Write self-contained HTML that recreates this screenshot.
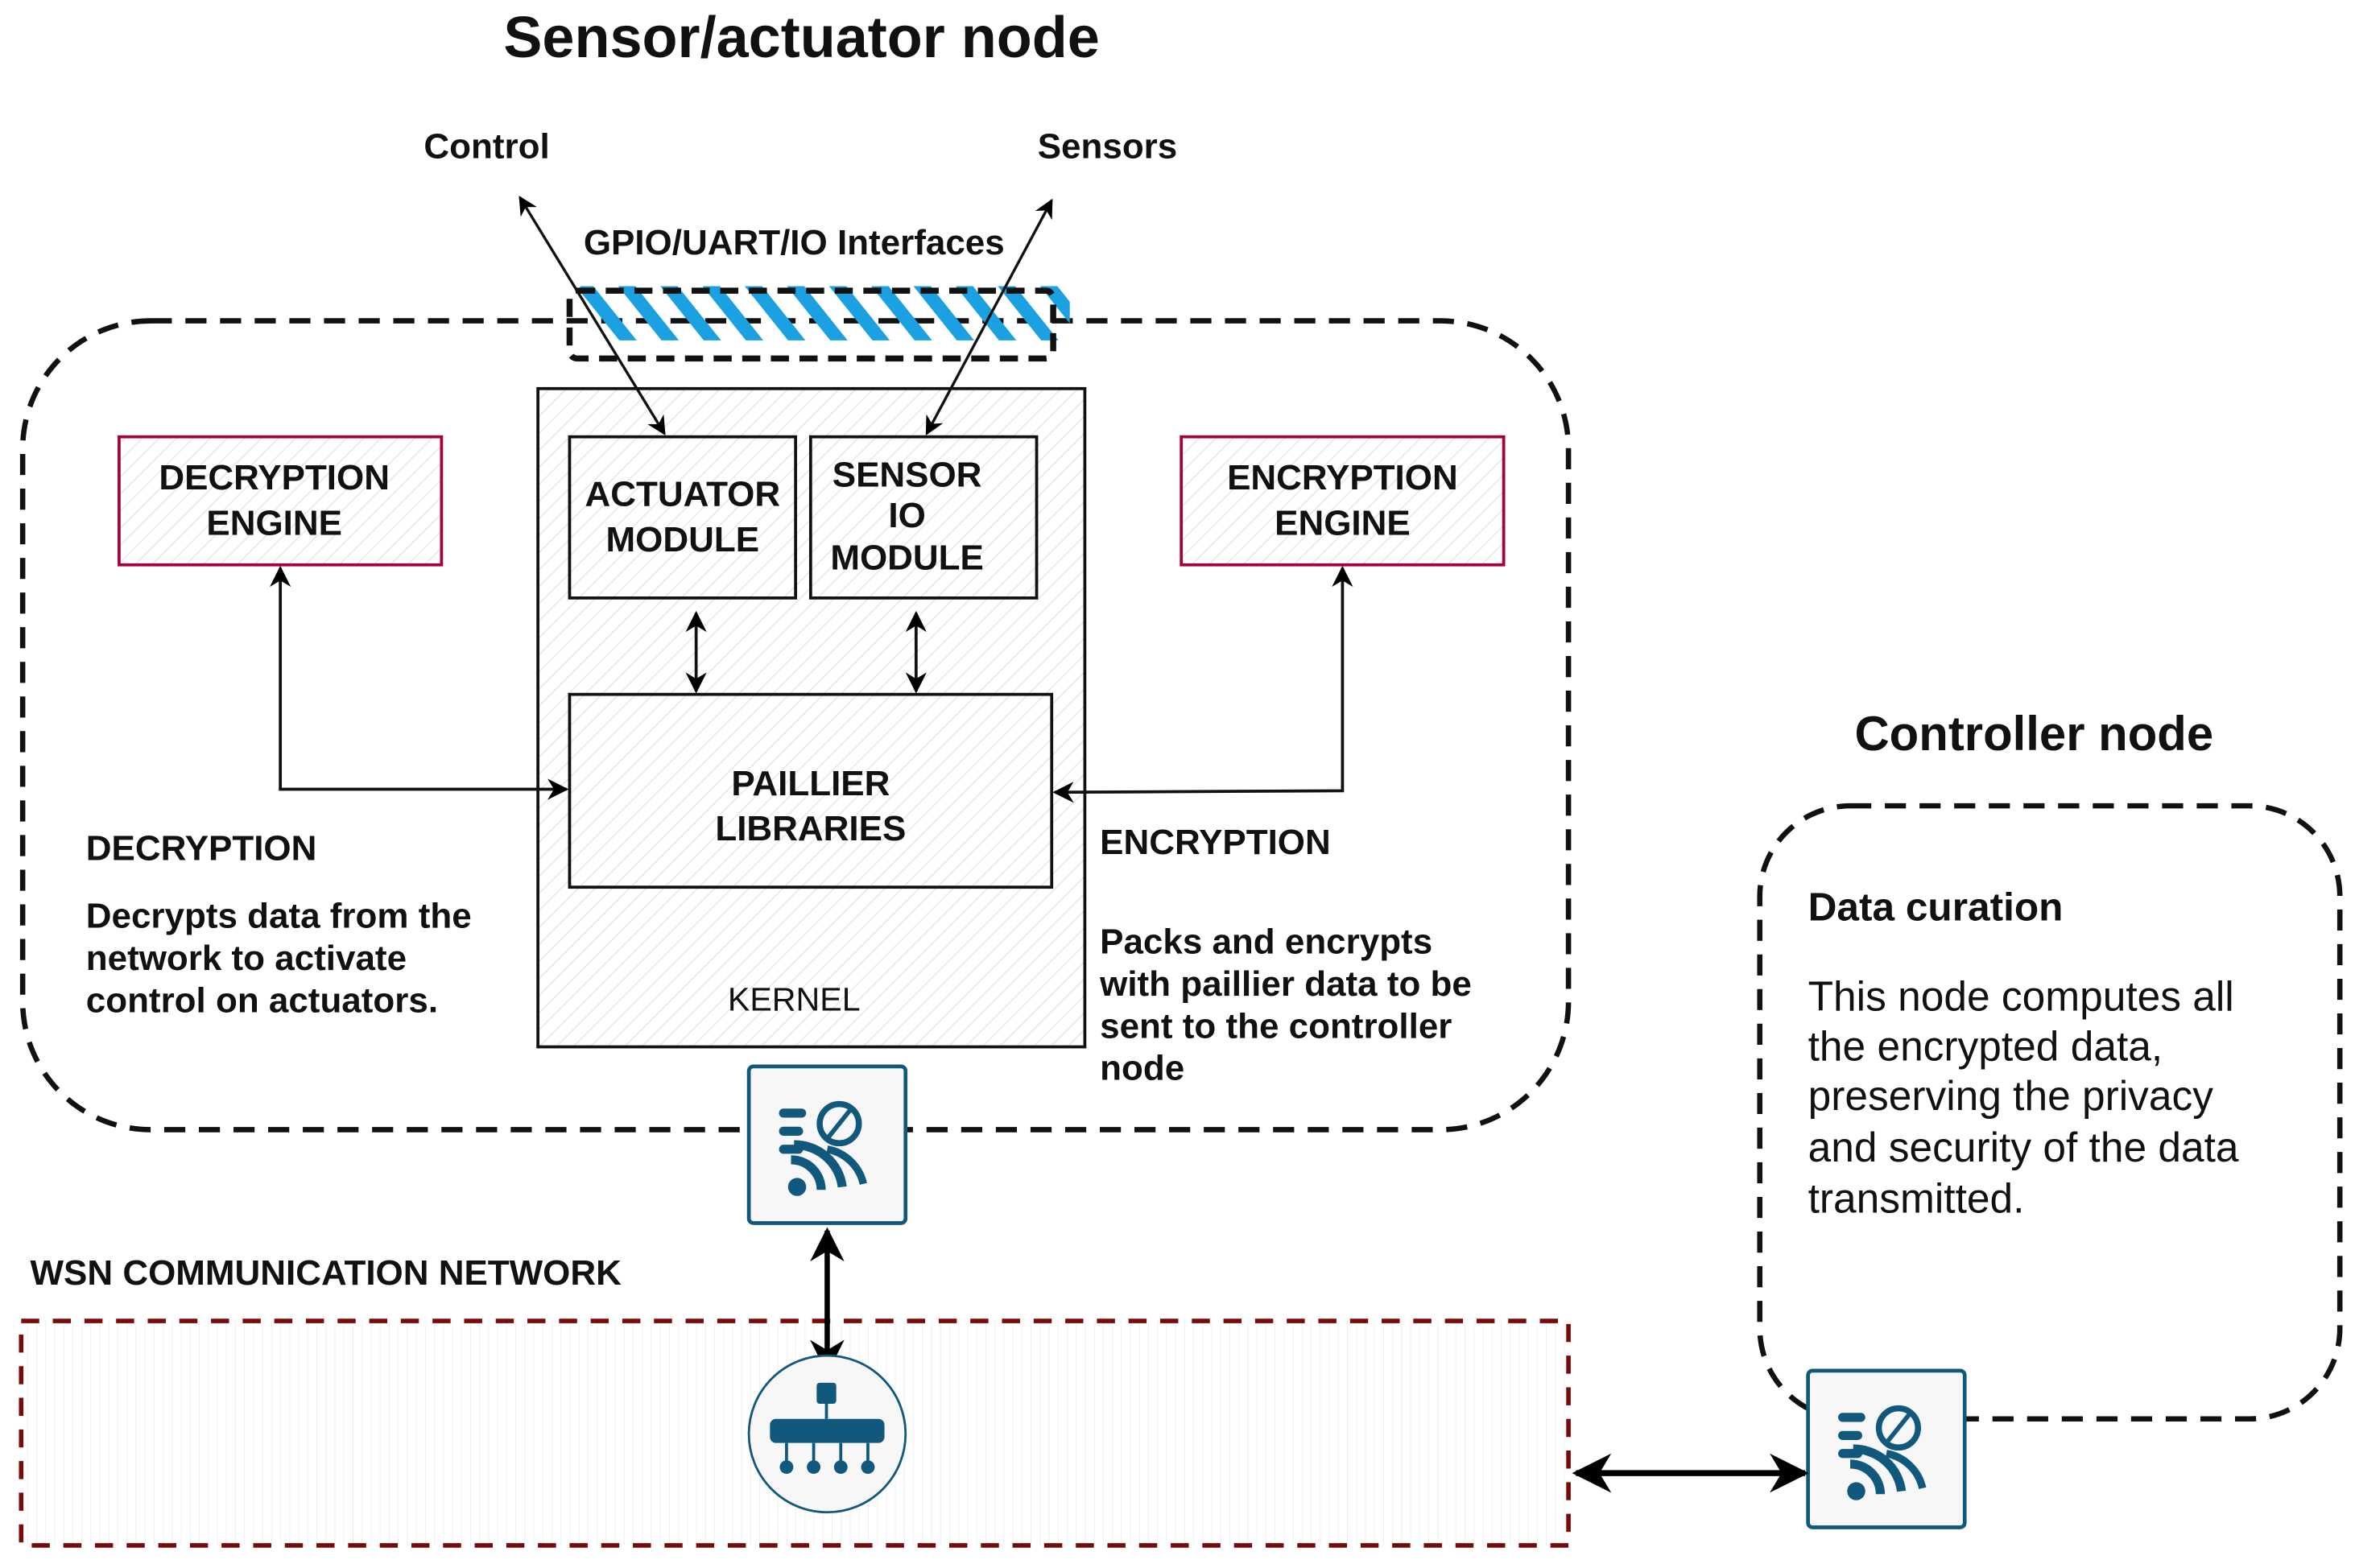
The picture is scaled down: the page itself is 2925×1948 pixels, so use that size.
<!DOCTYPE html>
<html><head><meta charset="utf-8"><style>
html,body{margin:0;padding:0;background:#fff;}
svg{display:block;}
text{font-family:"Liberation Sans",Arial,sans-serif;fill:#111;}
.b{font-weight:bold;font-size:23.5px;}
</style></head><body>
<svg width="2925" height="1948" viewBox="0 0 1563 1041" xmlns="http://www.w3.org/2000/svg">
<defs>
<pattern id="hatch" width="8" height="8" patternUnits="userSpaceOnUse" patternTransform="rotate(45)">
<rect width="8" height="8" fill="#fff"/><line x1="0" y1="0" x2="0" y2="8" stroke="#e6e6e6" stroke-width="1.5"/></pattern>
<pattern id="vh" width="6" height="6" patternUnits="userSpaceOnUse">
<rect width="6" height="6" fill="#fff"/><line x1="0" y1="0" x2="0" y2="6" stroke="#eee" stroke-width="1"/></pattern>
<marker id="ah" viewBox="0 0 10 10" refX="9" refY="5" markerWidth="7" markerHeight="7" orient="auto-start-reverse">
<path d="M0,0 L10,5 L0,10 L3,5 z" fill="#000"/></marker>
<marker id="ah2" viewBox="0 0 10 10" refX="9" refY="5" markerWidth="6.5" markerHeight="6.5" orient="auto-start-reverse">
<path d="M0,0 L10,5 L0,10 L3,5 z" fill="#000"/></marker>
<clipPath id="barclip"><rect x="385" y="190" width="325" height="36"/></clipPath>
<g id="icon">
<rect x="0" y="0" width="104" height="104" rx="3" fill="#f7f7f7" stroke="#10587c" stroke-width="2.5"/>
<rect x="20" y="28" width="18" height="6" rx="3" fill="#10587c"/>
<rect x="20" y="40" width="16" height="6" rx="3" fill="#10587c"/>
<rect x="20" y="52" width="16" height="6" rx="3" fill="#10587c"/>
<circle cx="60" cy="38" r="13" fill="none" stroke="#10587c" stroke-width="4"/>
<line x1="52" y1="48" x2="68" y2="28" stroke="#10587c" stroke-width="3"/>
<circle cx="32" cy="80" r="6" fill="#10587c"/>
<path d="M28,62 A20,20 0 0 1 48,82" fill="none" stroke="#10587c" stroke-width="6"/>
<path d="M30,52 A32,32 0 0 1 62,80" fill="none" stroke="#10587c" stroke-width="6"/>
<path d="M52,55 A30,30 0 0 1 76,78" fill="none" stroke="#10587c" stroke-width="5"/>
</g>
</defs>

<text x="532" y="38" text-anchor="middle" style="font-weight:bold;font-size:38.5px">Sensor/actuator node</text>
<text x="323" y="105" text-anchor="middle" class="b">Control</text>
<text x="735" y="105" text-anchor="middle" class="b">Sensors</text>
<text x="527" y="169" text-anchor="middle" class="b">GPIO/UART/IO Interfaces</text>

<rect x="15" y="213" width="1026" height="537" rx="85" fill="none" stroke="#111" stroke-width="3.5" stroke-dasharray="14,9"/>

<g clip-path="url(#barclip)">
<g stroke="#1ba1e2" stroke-width="9">
<line x1="380" y1="180" x2="420" y2="230"/><line x1="408" y1="180" x2="448" y2="230"/><line x1="436" y1="180" x2="476" y2="230"/><line x1="464" y1="180" x2="504" y2="230"/><line x1="492" y1="180" x2="532" y2="230"/><line x1="520" y1="180" x2="560" y2="230"/><line x1="548" y1="180" x2="588" y2="230"/><line x1="576" y1="180" x2="616" y2="230"/><line x1="604" y1="180" x2="644" y2="230"/><line x1="632" y1="180" x2="672" y2="230"/><line x1="660" y1="180" x2="700" y2="230"/><line x1="688" y1="180" x2="728" y2="230"/>
</g></g>
<rect x="378" y="193" width="321" height="45" rx="5" fill="none" stroke="#111" stroke-width="4" stroke-dasharray="12,7"/>

<rect x="357" y="258" width="363" height="437" fill="url(#hatch)" stroke="#111" stroke-width="2"/>
<text x="527" y="671" text-anchor="middle" style="font-size:22px">KERNEL</text>
<rect x="378" y="290" width="150" height="107" fill="url(#hatch)" stroke="#111" stroke-width="2"/>
<text x="453" y="336" text-anchor="middle" class="b">ACTUATOR</text>
<text x="453" y="366" text-anchor="middle" class="b">MODULE</text>
<rect x="538" y="290" width="150" height="107" fill="url(#hatch)" stroke="#111" stroke-width="2"/>
<text x="602" y="323" text-anchor="middle" class="b">SENSOR</text>
<text x="602" y="350" text-anchor="middle" class="b">IO</text>
<text x="602" y="378" text-anchor="middle" class="b">MODULE</text>
<rect x="378" y="461" width="320" height="128" fill="url(#hatch)" stroke="#111" stroke-width="2"/>
<text x="538" y="528" text-anchor="middle" class="b">PAILLIER</text>
<text x="538" y="558" text-anchor="middle" class="b">LIBRARIES</text>

<line x1="345" y1="131" x2="441" y2="288" stroke="#111" stroke-width="1.8" marker-start="url(#ah)" marker-end="url(#ah)"/>
<line x1="698" y1="133" x2="615" y2="288" stroke="#111" stroke-width="1.8" marker-start="url(#ah)" marker-end="url(#ah)"/>
<line x1="462" y1="407" x2="462" y2="459" stroke="#111" stroke-width="2" marker-start="url(#ah)" marker-end="url(#ah)"/>
<line x1="608" y1="407" x2="608" y2="459" stroke="#111" stroke-width="2" marker-start="url(#ah)" marker-end="url(#ah)"/>

<rect x="79" y="290" width="214" height="85" fill="url(#hatch)" stroke="#a50040" stroke-width="2"/>
<text x="182" y="325" text-anchor="middle" class="b">DECRYPTION</text>
<text x="182" y="355" text-anchor="middle" class="b">ENGINE</text>
<rect x="784" y="290" width="214" height="85" fill="url(#hatch)" stroke="#a50040" stroke-width="2"/>
<text x="891" y="325" text-anchor="middle" class="b">ENCRYPTION</text>
<text x="891" y="355" text-anchor="middle" class="b">ENGINE</text>
<polyline points="186,377 186,524 376,524" fill="none" stroke="#111" stroke-width="2" marker-start="url(#ah)" marker-end="url(#ah)"/>
<polyline points="891,377 891,525 700,526" fill="none" stroke="#111" stroke-width="2" marker-start="url(#ah)" marker-end="url(#ah)"/>

<text x="57" y="571" class="b">DECRYPTION</text>
<text x="57" y="616" class="b">Decrypts data from the</text>
<text x="57" y="644" class="b">network to activate</text>
<text x="57" y="672" class="b">control on actuators.</text>
<text x="730" y="567" class="b">ENCRYPTION</text>
<text x="730" y="633" class="b">Packs and encrypts</text>
<text x="730" y="661" class="b">with paillier data to be</text>
<text x="730" y="689" class="b">sent to the controller</text>
<text x="730" y="717" class="b">node</text>

<text x="20" y="853" class="b">WSN COMMUNICATION NETWORK</text>
<rect x="14" y="877" width="1027" height="149" fill="url(#vh)" stroke="#7a0a0a" stroke-width="3" stroke-dasharray="12,9"/>

<use href="#icon" x="497" y="708"/>
<line x1="549" y1="817" x2="549" y2="910" stroke="#000" stroke-width="3.5" marker-start="url(#ah2)" marker-end="url(#ah2)"/>

<circle cx="549" cy="952" r="52" fill="#f7f7f7" stroke="#10587c" stroke-width="1.5"/>
<rect x="542" y="918" width="13" height="14" rx="2" fill="#10587c"/>
<line x1="548.5" y1="932" x2="548.5" y2="942" stroke="#10587c" stroke-width="2"/>
<rect x="511" y="942" width="76" height="16" rx="4" fill="#10587c"/>
<g stroke="#10587c" stroke-width="2"><line x1="522" y1="958" x2="522" y2="972"/><line x1="540" y1="958" x2="540" y2="972"/><line x1="558" y1="958" x2="558" y2="972"/><line x1="576" y1="958" x2="576" y2="972"/></g>
<g fill="#10587c"><circle cx="522" cy="974" r="4.5"/><circle cx="540" cy="974" r="4.5"/><circle cx="558" cy="974" r="4.5"/><circle cx="576" cy="974" r="4.5"/></g>

<text x="1350" y="498" text-anchor="middle" style="font-weight:bold;font-size:32px">Controller node</text>
<rect x="1168" y="535" width="385" height="407" rx="60" fill="none" stroke="#111" stroke-width="3.5" stroke-dasharray="14,9"/>
<text x="1200" y="611" style="font-weight:bold;font-size:26.5px">Data curation</text>
<text x="1200" y="671" style="font-size:27.5px">This node computes all</text>
<text x="1200" y="704" style="font-size:27.5px">the encrypted data,</text>
<text x="1200" y="737" style="font-size:27.5px">preserving the privacy</text>
<text x="1200" y="771" style="font-size:27.5px">and security of the data</text>
<text x="1200" y="805" style="font-size:27.5px">transmitted.</text>
<use href="#icon" x="1200" y="910"/>
<line x1="1046" y1="978" x2="1198" y2="978" stroke="#000" stroke-width="4" marker-start="url(#ah2)" marker-end="url(#ah2)"/>
</svg>
</body></html>
